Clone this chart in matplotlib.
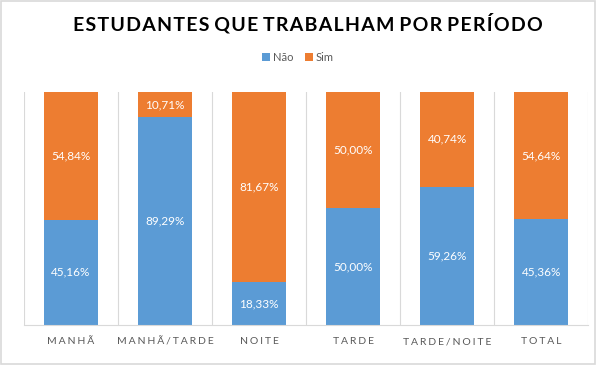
import numpy as np
import matplotlib
matplotlib.use('Agg')
import matplotlib.pyplot as plt

categorias = ['MANHÃ', 'MANHÃ/TARDE', 'NOITE', 'TARDE', 'TARDE/NOITE', 'TOTAL']
nao = [45.16, 89.29, 18.33, 50.00, 59.26, 45.36]
sim = [54.84, 10.71, 81.67, 50.00, 40.74, 54.64]

azul = '#5B9BD5'
laranja = '#ED7D31'
plt.rcParams['font.family'] = ['Lato', 'DejaVu Sans']


def espacar(texto, sep='\u2009'):
    return sep.join(texto)


fig = plt.figure(figsize=(5.96, 3.65), dpi=100)
ax = fig.add_axes([0.040, 0.110, 0.947, 0.638])

x = np.arange(len(categorias))
b1 = ax.bar(x, nao, width=0.58, color=azul, label='Não')
b2 = ax.bar(x, sim, width=0.58, bottom=nao, color=laranja, label='Sim')

for i in range(len(categorias)):
    ax.text(x[i], nao[i] / 2, '{:.2f}%'.format(nao[i]).replace('.', ','),
            ha='center', va='center', color='white', fontsize=8.5)
    ax.text(x[i], nao[i] + sim[i] / 2, '{:.2f}%'.format(sim[i]).replace('.', ','),
            ha='center', va='center', color='white', fontsize=8.5)

ax.set_xlim(-0.5, len(categorias) - 0.5)
ax.set_ylim(0, 100)
ax.set_yticks([])
ax.set_xticks(x)
ax.set_xticklabels([espacar(c, '\u2009\u200a') for c in categorias], fontsize=7.5, color='#595959')
ax.tick_params(axis='x', length=0, pad=9)
for s in ['top', 'right', 'left']:
    ax.spines[s].set_visible(False)
ax.spines['bottom'].set_color('#d9d9d9')
for xv in np.arange(-0.5, len(categorias), 1.0):
    ax.axvline(xv, color='#d9d9d9', lw=0.8, zorder=0)

titulo = ' '.join(espacar(p, '\u200a') for p in 'ESTUDANTES QUE TRABALHAM POR PERÍODO'.split())
fig.text(0.516, 0.937, titulo, ha='center', va='center', fontsize=14, fontweight='bold', color='black')

fig.legend(handles=[b1, b2], loc='center', bbox_to_anchor=(0.5, 0.843), ncol=2, frameon=False,
           fontsize=8, handlelength=0.7, handleheight=0.7, handletextpad=0.3, columnspacing=1.0,
           labelcolor='#595959')

fig.patches.append(plt.Rectangle((0.001, 0.002), 0.997, 0.995, transform=fig.transFigure,
                                 fill=False, edgecolor='#d9d9d9', lw=1.2))

plt.savefig('out.png', dpi=100)
